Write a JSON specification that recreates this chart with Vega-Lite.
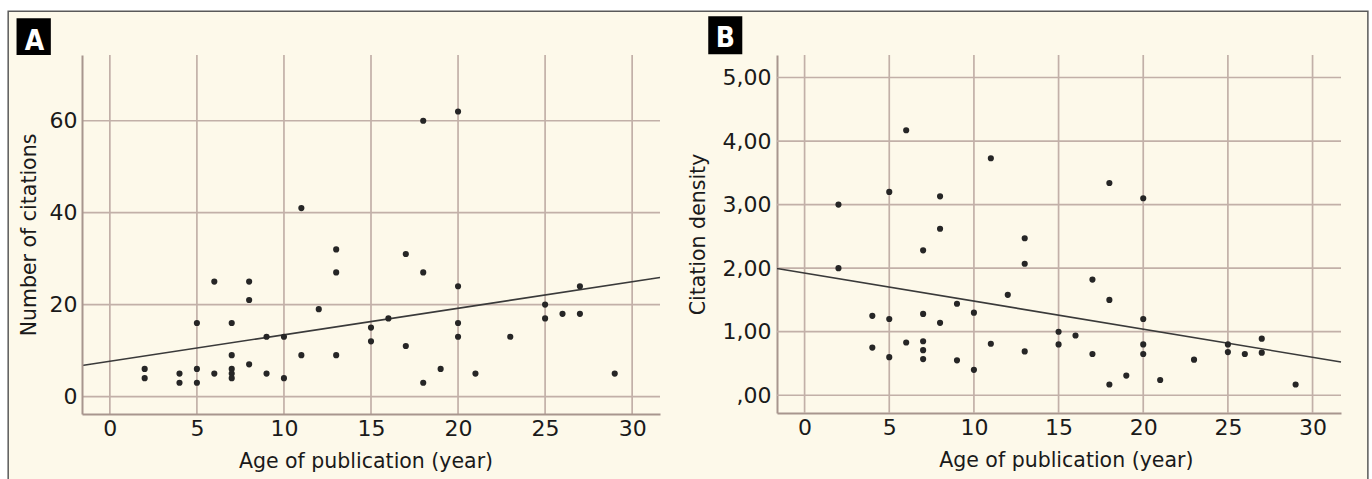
{
  "$schema": "https://vega.github.io/schema/vega-lite/v6.json",
  "background": "white",
  "padding": {"left": 7, "top": 10, "right": 0, "bottom": 0},
  "spacing": 117,
  "bounds": "flush",
  "datasets": {
    "citations": [
      {"age": 2, "n": 6}, {"age": 2, "n": 4}, {"age": 4, "n": 5}, {"age": 4, "n": 3},
      {"age": 5, "n": 16}, {"age": 5, "n": 6}, {"age": 5, "n": 3}, {"age": 6, "n": 25}, {"age": 6, "n": 5},
      {"age": 7, "n": 16}, {"age": 7, "n": 9}, {"age": 7, "n": 6}, {"age": 7, "n": 5}, {"age": 7, "n": 4},
      {"age": 8, "n": 25}, {"age": 8, "n": 21}, {"age": 8, "n": 7}, {"age": 9, "n": 13}, {"age": 9, "n": 5},
      {"age": 10, "n": 13}, {"age": 10, "n": 4}, {"age": 11, "n": 41}, {"age": 11, "n": 9}, {"age": 12, "n": 19},
      {"age": 13, "n": 32}, {"age": 13, "n": 27}, {"age": 13, "n": 9}, {"age": 15, "n": 15}, {"age": 15, "n": 12},
      {"age": 16, "n": 17}, {"age": 17, "n": 31}, {"age": 17, "n": 11}, {"age": 18, "n": 60}, {"age": 18, "n": 27},
      {"age": 18, "n": 3}, {"age": 19, "n": 6}, {"age": 20, "n": 62}, {"age": 20, "n": 24}, {"age": 20, "n": 16},
      {"age": 20, "n": 13}, {"age": 21, "n": 5}, {"age": 23, "n": 13}, {"age": 25, "n": 20}, {"age": 25, "n": 17},
      {"age": 26, "n": 18}, {"age": 27, "n": 24}, {"age": 27, "n": 18}, {"age": 29, "n": 5}
    ],
    "density": [
      {"age": 2, "d": 3.0}, {"age": 2, "d": 2.0}, {"age": 4, "d": 1.25}, {"age": 4, "d": 0.75},
      {"age": 5, "d": 3.2}, {"age": 5, "d": 1.2}, {"age": 5, "d": 0.6}, {"age": 6, "d": 4.17}, {"age": 6, "d": 0.83},
      {"age": 7, "d": 2.28}, {"age": 7, "d": 1.28}, {"age": 7, "d": 0.85}, {"age": 7, "d": 0.71}, {"age": 7, "d": 0.57},
      {"age": 8, "d": 3.13}, {"age": 8, "d": 2.62}, {"age": 8, "d": 1.14}, {"age": 9, "d": 1.44}, {"age": 9, "d": 0.55},
      {"age": 10, "d": 1.3}, {"age": 10, "d": 0.4}, {"age": 11, "d": 3.73}, {"age": 11, "d": 0.81}, {"age": 12, "d": 1.58},
      {"age": 13, "d": 2.47}, {"age": 13, "d": 2.07}, {"age": 13, "d": 0.69}, {"age": 15, "d": 1.0}, {"age": 15, "d": 0.8},
      {"age": 16, "d": 0.94}, {"age": 17, "d": 1.82}, {"age": 17, "d": 0.65}, {"age": 18, "d": 3.34}, {"age": 18, "d": 1.5},
      {"age": 18, "d": 0.17}, {"age": 19, "d": 0.31}, {"age": 20, "d": 3.1}, {"age": 20, "d": 1.2}, {"age": 20, "d": 0.8},
      {"age": 20, "d": 0.65}, {"age": 21, "d": 0.24}, {"age": 23, "d": 0.56}, {"age": 25, "d": 0.8}, {"age": 25, "d": 0.68},
      {"age": 26, "d": 0.65}, {"age": 27, "d": 0.89}, {"age": 27, "d": 0.67}, {"age": 29, "d": 0.17}
    ],
    "fitA": [{"age": -1.6, "n": 6.74}, {"age": 31.6, "n": 25.9}],
    "fitB": [{"age": -1.63, "d": 1.995}, {"age": 31.68, "d": 0.524}],
    "xgrid": [{"g": 0}, {"g": 5}, {"g": 10}, {"g": 15}, {"g": 20}, {"g": 25}, {"g": 30}],
    "ygridA": [{"g": 0}, {"g": 20}, {"g": 40}, {"g": 60}],
    "ygridB": [{"g": 0}, {"g": 1}, {"g": 2}, {"g": 3}, {"g": 4}, {"g": 5}],
    "one": [{"k": 1}],
    "labA": [{"t": "A"}],
    "labB": [{"t": "B"}]
  },
  "hconcat": [
    {
      "width": 578,
      "height": 359,
      "layer": [
        {
          "data": {"name": "one"},
          "mark": {"type": "rect", "fill": "#FDF9EA", "stroke": "#5a5a5a", "strokeWidth": 1.5, "clip": false},
          "encoding": {
            "x": {"datum": -5.84, "type": "quantitative", "scale": {"domain": [-1.6, 31.6], "nice": false, "zero": false}},
            "x2": {"datum": 72.26},
            "y": {"datum": 83.83, "type": "quantitative", "scale": {"domain": [-3.8, 74.3], "nice": false, "zero": false}},
            "y2": {"datum": -20.3}
          }
        },
        {
          "data": {"name": "xgrid"},
          "mark": {"type": "rule", "color": "#C2B0A8", "strokeWidth": 1.7},
          "encoding": {
            "x": {"field": "g", "type": "quantitative", "scale": {"domain": [-1.6, 31.6], "nice": false, "zero": false}}
          }
        },
        {
          "data": {"name": "ygridA"},
          "mark": {"type": "rule", "color": "#C2B0A8", "strokeWidth": 1.7},
          "encoding": {
            "y": {"field": "g", "type": "quantitative", "scale": {"domain": [-3.8, 74.3], "nice": false, "zero": false}}
          }
        },
        {
          "data": {"name": "fitA"},
          "mark": {"type": "line", "color": "#3a3a3a", "strokeWidth": 1.6},
          "encoding": {
            "x": {"field": "age", "type": "quantitative", "scale": {"domain": [-1.6, 31.6], "nice": false, "zero": false}},
            "y": {"field": "n", "type": "quantitative", "scale": {"domain": [-3.8, 74.3], "nice": false, "zero": false}}
          }
        },
        {
          "data": {"name": "citations"},
          "mark": {"type": "point", "filled": true, "color": "#262626", "size": 38, "opacity": 1},
          "encoding": {
            "x": {"field": "age", "type": "quantitative",
              "scale": {"domain": [-1.6, 31.6], "nice": false, "zero": false},
              "axis": {"title": "Age of publication (year)", "values": [0, 5, 10, 15, 20, 25, 30], "titleX": 283.5, "titleY": 53, "titleBaseline": "alphabetic", "labelPadding": 4, "zindex": 2}},
            "y": {"field": "n", "type": "quantitative",
              "scale": {"domain": [-3.8, 74.3], "nice": false, "zero": false},
              "axis": {"title": "Number of citations", "values": [0, 20, 40, 60], "titleX": -47, "titleBaseline": "alphabetic", "labelPadding": 5, "zindex": 2}}
          }
        },
        {
          "data": {"name": "labA"},
          "mark": {"type": "rect", "fill": "#000000", "clip": false},
          "encoding": {
            "x": {"datum": -5.36, "type": "quantitative"},
            "x2": {"datum": -3.39},
            "y": {"datum": 82.27, "type": "quantitative"},
            "y2": {"datum": 74.3}
          }
        },
        {
          "data": {"name": "labA"},
          "mark": {"type": "text", "color": "white", "font": "'DejaVu Sans Condensed', 'Liberation Sans Narrow', 'Roboto Condensed', Roboto, sans-serif", "fontWeight": "bold", "fontSize": 28, "align": "center", "baseline": "alphabetic", "clip": false},
          "encoding": {
            "x": {"datum": -4.33, "type": "quantitative"},
            "y": {"datum": 75.37, "type": "quantitative"},
            "text": {"field": "t"}
          }
        }
      ]
    },
    {
      "width": 564,
      "height": 358,
      "layer": [
        {
          "data": {"name": "xgrid"},
          "mark": {"type": "rule", "color": "#C2B0A8", "strokeWidth": 1.7},
          "encoding": {
            "x": {"field": "g", "type": "quantitative", "scale": {"domain": [-1.63, 31.68], "nice": false, "zero": false}}
          }
        },
        {
          "data": {"name": "ygridB"},
          "mark": {"type": "rule", "color": "#C2B0A8", "strokeWidth": 1.7},
          "encoding": {
            "y": {"field": "g", "type": "quantitative", "scale": {"domain": [-0.279, 5.354], "nice": false, "zero": false}}
          }
        },
        {
          "data": {"name": "fitB"},
          "mark": {"type": "line", "color": "#3a3a3a", "strokeWidth": 1.6},
          "encoding": {
            "x": {"field": "age", "type": "quantitative", "scale": {"domain": [-1.63, 31.68], "nice": false, "zero": false}},
            "y": {"field": "d", "type": "quantitative", "scale": {"domain": [-0.279, 5.354], "nice": false, "zero": false}}
          }
        },
        {
          "data": {"name": "density"},
          "mark": {"type": "point", "filled": true, "color": "#262626", "size": 38, "opacity": 1},
          "encoding": {
            "x": {"field": "age", "type": "quantitative",
              "scale": {"domain": [-1.63, 31.68], "nice": false, "zero": false},
              "axis": {"title": "Age of publication (year)", "values": [0, 5, 10, 15, 20, 25, 30], "titleX": 288.8, "titleY": 53, "titleBaseline": "alphabetic", "labelPadding": 4}},
            "y": {"field": "d", "type": "quantitative",
              "scale": {"domain": [-0.279, 5.354], "nice": false, "zero": false},
              "axis": {"title": "Citation density", "values": [0, 1, 2, 3, 4, 5], "titleX": -73, "titleBaseline": "alphabetic", "labelPadding": 6,
                "labelExpr": "datum.value == 0 ? ',00' : replace(format(datum.value, '.2f'), '.', ',')"}}
          }
        },
        {
          "data": {"name": "labB"},
          "mark": {"type": "rect", "fill": "#000000", "clip": false},
          "encoding": {
            "x": {"datum": -5.69, "type": "quantitative"},
            "x2": {"datum": -3.68},
            "y": {"datum": 5.964, "type": "quantitative"},
            "y2": {"datum": 5.366}
          }
        },
        {
          "data": {"name": "labB"},
          "mark": {"type": "text", "color": "white", "font": "'DejaVu Sans Condensed', 'Liberation Sans Narrow', 'Roboto Condensed', Roboto, sans-serif", "fontWeight": "bold", "fontSize": 28, "align": "center", "baseline": "alphabetic", "clip": false},
          "encoding": {
            "x": {"datum": -4.68, "type": "quantitative"},
            "y": {"datum": 5.481, "type": "quantitative"},
            "text": {"field": "t"}
          }
        }
      ]
    }
  ],
  "config": {
    "view": {"stroke": null},
    "axis": {
      "labelFont": "DejaVu Sans",
      "titleFont": "DejaVu Sans",
      "labelFontSize": 22,
      "titleFontSize": 20.5,
      "titleFontWeight": "normal",
      "labelColor": "#1a1a1a",
      "titleColor": "#1a1a1a",
      "domainColor": "#A8968E",
      "domainWidth": 2,
      "ticks": false,
      "grid": false
    }
  }
}
